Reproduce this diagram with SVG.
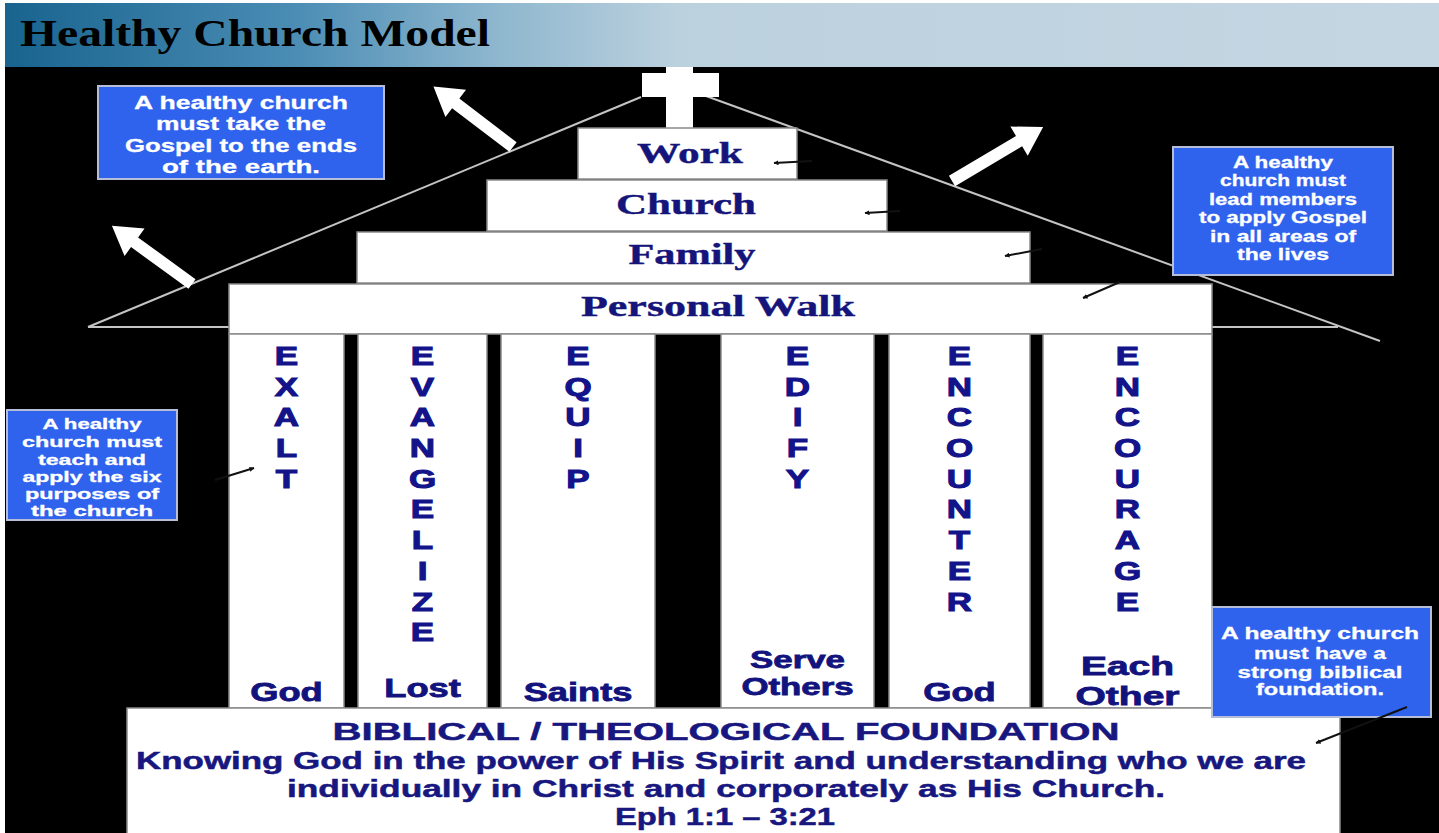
<svg xmlns="http://www.w3.org/2000/svg" width="1439" height="833" viewBox="0 0 1439 833">
<defs>
<linearGradient id="hdr" x1="0" y1="0" x2="1" y2="0">
<stop offset="0" stop-color="#18648f"/>
<stop offset="0.2" stop-color="#4a8cb4"/>
<stop offset="0.34" stop-color="#8db6ce"/>
<stop offset="0.47" stop-color="#bcd1de"/>
<stop offset="1" stop-color="#c4d6e2"/>
</linearGradient>
<marker id="ah" viewBox="0 0 10 10" refX="9" refY="5" markerWidth="5" markerHeight="5" orient="auto" markerUnits="userSpaceOnUse">
<path d="M0,0 L10,5 L0,10 Z" fill="#111"/>
</marker>
<style>
.box{fill:#fff;stroke:#8a8a8a;stroke-width:1.5}
.ser{font-family:"Liberation Serif","Times New Roman",serif;font-weight:bold;fill:#14147a;text-anchor:middle;font-size:30px;stroke:#14147a;stroke-width:0.4}
.pil{font-family:"Liberation Sans",Arial,sans-serif;font-weight:bold;fill:#13138a;text-anchor:middle;font-size:25px;stroke:#13138a;stroke-width:1}
.lab{font-family:"Liberation Sans",Arial,sans-serif;font-weight:bold;fill:#13137e;text-anchor:middle;stroke:#13137e;stroke-width:0.8}
.call rect{fill:#2f63ee;stroke:#b6bdd6;stroke-width:2}
.ct{font-family:"Liberation Sans",Arial,sans-serif;font-weight:bold;fill:#fff;text-anchor:middle;stroke:#fff;stroke-width:0.3}
.fnd{font-family:"Liberation Sans",Arial,sans-serif;font-weight:bold;fill:#17177f;text-anchor:middle;font-size:24px;stroke:#17177f;stroke-width:0.5}
.roof{stroke:#c4c4c4;stroke-width:2;fill:none}
.sa{stroke:#111;stroke-width:2;fill:none;marker-end:url(#ah)}
.wa{fill:#fff}
</style>
</defs>
<rect x="0" y="0" width="1439" height="833" fill="#fff"/>
<rect x="5" y="67" width="1434" height="766" fill="#000"/>
<g id="header">
<rect x="5" y="3" width="1434" height="64" fill="url(#hdr)"/>
<text x="20" y="46" font-family="'Liberation Serif','Times New Roman',serif" font-weight="bold" font-size="38" fill="#000" textLength="470" lengthAdjust="spacingAndGlyphs">Healthy Church Model</text>
</g>
<g id="roof">
<line class="roof" x1="641" y1="97" x2="88" y2="327"/>
<line class="roof" x1="706" y1="96" x2="1380" y2="341"/>
<line class="roof" x1="88" y1="327" x2="1338" y2="327"/>
</g>
<g id="cross">
<rect x="666" y="67" width="27" height="62" fill="#fff"/>
<rect x="642" y="73" width="77" height="24" fill="#fff"/>
</g>
<g id="work">
<rect class="box" x="578" y="128" width="219" height="51"/>
<text class="ser" x="690" y="163" textLength="106" lengthAdjust="spacingAndGlyphs">Work</text>
</g>
<g id="church">
<rect class="box" x="487" y="180" width="400" height="51"/>
<text class="ser" x="686" y="214" textLength="140" lengthAdjust="spacingAndGlyphs">Church</text>
</g>
<g id="family">
<rect class="box" x="357" y="232" width="673" height="51"/>
<text class="ser" x="692" y="264" textLength="127" lengthAdjust="spacingAndGlyphs">Family</text>
</g>
<g id="personal-walk">
<rect class="box" x="229" y="284" width="983" height="50"/>
<text class="ser" x="718" y="316" textLength="274" lengthAdjust="spacingAndGlyphs">Personal Walk</text>
</g>
<g id="exalt">
<rect class="box" x="229" y="334" width="115" height="374"/>
<g transform="translate(286.5,0) scale(1.4,1)">
<text class="pil" y="365"><tspan x="0">E</tspan><tspan x="0" dy="30.7">X</tspan><tspan x="0" dy="30.7">A</tspan><tspan x="0" dy="30.7">L</tspan><tspan x="0" dy="30.7">T</tspan></text>
</g>
<g transform="translate(286.5,0) scale(1.45,1)"><text class="lab" x="0" y="701" font-size="25">God</text></g>
</g>
<g id="evangelize">
<rect class="box" x="358" y="334" width="129" height="374"/>
<g transform="translate(422.5,0) scale(1.4,1)">
<text class="pil" y="365"><tspan x="0">E</tspan><tspan x="0" dy="30.7">V</tspan><tspan x="0" dy="30.7">A</tspan><tspan x="0" dy="30.7">N</tspan><tspan x="0" dy="30.7">G</tspan><tspan x="0" dy="30.7">E</tspan><tspan x="0" dy="30.7">L</tspan><tspan x="0" dy="30.7">I</tspan><tspan x="0" dy="30.7">Z</tspan><tspan x="0" dy="30.7">E</tspan></text>
</g>
<g transform="translate(422.5,0) scale(1.45,1)"><text class="lab" x="0" y="697" font-size="25">Lost</text></g>
</g>
<g id="equip">
<rect class="box" x="501" y="334" width="154" height="374"/>
<g transform="translate(578,0) scale(1.4,1)">
<text class="pil" y="365"><tspan x="0">E</tspan><tspan x="0" dy="30.7">Q</tspan><tspan x="0" dy="30.7">U</tspan><tspan x="0" dy="30.7">I</tspan><tspan x="0" dy="30.7">P</tspan></text>
</g>
<g transform="translate(578,0) scale(1.45,1)"><text class="lab" x="0" y="701" font-size="25">Saints</text></g>
</g>
<g id="edify">
<rect class="box" x="721" y="334" width="153" height="374"/>
<g transform="translate(797.5,0) scale(1.4,1)">
<text class="pil" y="365"><tspan x="0">E</tspan><tspan x="0" dy="30.7">D</tspan><tspan x="0" dy="30.7">I</tspan><tspan x="0" dy="30.7">F</tspan><tspan x="0" dy="30.7">Y</tspan></text>
</g>
<g transform="translate(797.5,0) scale(1.45,1)"><text class="lab" x="0" y="668" font-size="24">Serve</text><text class="lab" x="0" y="695" font-size="24">Others</text></g>
</g>
<g id="encounter">
<rect class="box" x="889" y="334" width="141" height="374"/>
<g transform="translate(959.5,0) scale(1.4,1)">
<text class="pil" y="365"><tspan x="0">E</tspan><tspan x="0" dy="30.7">N</tspan><tspan x="0" dy="30.7">C</tspan><tspan x="0" dy="30.7">O</tspan><tspan x="0" dy="30.7">U</tspan><tspan x="0" dy="30.7">N</tspan><tspan x="0" dy="30.7">T</tspan><tspan x="0" dy="30.7">E</tspan><tspan x="0" dy="30.7">R</tspan></text>
</g>
<g transform="translate(959.5,0) scale(1.45,1)"><text class="lab" x="0" y="701" font-size="25">God</text></g>
</g>
<g id="encourage">
<rect class="box" x="1043" y="334" width="169" height="374"/>
<g transform="translate(1127.5,0) scale(1.4,1)">
<text class="pil" y="365"><tspan x="0">E</tspan><tspan x="0" dy="30.7">N</tspan><tspan x="0" dy="30.7">C</tspan><tspan x="0" dy="30.7">O</tspan><tspan x="0" dy="30.7">U</tspan><tspan x="0" dy="30.7">R</tspan><tspan x="0" dy="30.7">A</tspan><tspan x="0" dy="30.7">G</tspan><tspan x="0" dy="30.7">E</tspan></text>
</g>
<g transform="translate(1127.5,0) scale(1.5,1)"><text class="lab" x="0" y="675" font-size="26">Each</text><text class="lab" x="0" y="705" font-size="26">Other</text></g>
</g>
<g id="foundation">
<rect class="box" x="127" y="708" width="1213" height="130"/>
<text class="fnd" x="726" y="740" textLength="787" lengthAdjust="spacingAndGlyphs">BIBLICAL / THEOLOGICAL FOUNDATION</text>
<text class="fnd" x="721" y="769" textLength="1170" lengthAdjust="spacingAndGlyphs">Knowing God in the power of His Spirit and understanding who we are</text>
<text class="fnd" x="726" y="797" textLength="878" lengthAdjust="spacingAndGlyphs">individually in Christ and corporately as His Church.</text>
<text class="fnd" x="725" y="825" textLength="220" lengthAdjust="spacingAndGlyphs">Eph 1:1 – 3:21</text>
</g>
<g id="callout-gospel" class="call">
<rect x="98" y="86" width="286" height="93"/>
<text class="ct" x="241" y="109" font-size="18" textLength="214" lengthAdjust="spacingAndGlyphs">A healthy church</text>
<text class="ct" x="241" y="130" font-size="18" textLength="170" lengthAdjust="spacingAndGlyphs">must take the</text>
<text class="ct" x="241" y="152" font-size="18" textLength="232" lengthAdjust="spacingAndGlyphs">Gospel to the ends</text>
<text class="ct" x="241" y="173" font-size="18" textLength="158" lengthAdjust="spacingAndGlyphs">of the earth.</text>
</g>
<g id="callout-apply" class="call">
<rect x="1173" y="147" width="220" height="128"/>
<text class="ct" x="1283" y="168" font-size="16" textLength="100" lengthAdjust="spacingAndGlyphs">A healthy</text>
<text class="ct" x="1283" y="186" font-size="16" textLength="126" lengthAdjust="spacingAndGlyphs">church must</text>
<text class="ct" x="1283" y="205" font-size="16" textLength="148" lengthAdjust="spacingAndGlyphs">lead members</text>
<text class="ct" x="1283" y="223" font-size="16" textLength="168" lengthAdjust="spacingAndGlyphs">to apply Gospel</text>
<text class="ct" x="1283" y="242" font-size="16" textLength="146" lengthAdjust="spacingAndGlyphs">in all areas of</text>
<text class="ct" x="1283" y="260" font-size="16" textLength="92" lengthAdjust="spacingAndGlyphs">the lives</text>
</g>
<g id="callout-purposes" class="call">
<rect x="7" y="410" width="170" height="110"/>
<text class="ct" x="92" y="429" font-size="14" textLength="99" lengthAdjust="spacingAndGlyphs">A healthy</text>
<text class="ct" x="92" y="447" font-size="14" textLength="140" lengthAdjust="spacingAndGlyphs">church must</text>
<text class="ct" x="92" y="465" font-size="14" textLength="108" lengthAdjust="spacingAndGlyphs">teach and</text>
<text class="ct" x="92" y="482" font-size="14" textLength="139" lengthAdjust="spacingAndGlyphs">apply the six</text>
<text class="ct" x="92" y="499" font-size="14" textLength="134" lengthAdjust="spacingAndGlyphs">purposes of</text>
<text class="ct" x="92" y="516" font-size="14" textLength="122" lengthAdjust="spacingAndGlyphs">the church</text>
</g>
<g id="callout-foundation" class="call">
<rect x="1212" y="607" width="219" height="110"/>
<text class="ct" x="1320" y="639" font-size="16" textLength="198" lengthAdjust="spacingAndGlyphs">A healthy church</text>
<text class="ct" x="1320" y="659" font-size="16" textLength="132" lengthAdjust="spacingAndGlyphs">must have a</text>
<text class="ct" x="1320" y="678" font-size="16" textLength="165" lengthAdjust="spacingAndGlyphs">strong biblical</text>
<text class="ct" x="1320" y="695" font-size="16" textLength="128" lengthAdjust="spacingAndGlyphs">foundation.</text>
</g>
<g id="connectors">
<line class="sa" x1="812" y1="161" x2="774" y2="163"/>
<line class="sa" x1="900" y1="211" x2="865" y2="213"/>
<line class="sa" x1="1042" y1="249" x2="1005" y2="256"/>
<line class="sa" x1="1120" y1="282" x2="1083" y2="298"/>
<line class="sa" x1="215" y1="480" x2="254" y2="468"/>
<line class="sa" x1="1407" y1="707" x2="1316" y2="743"/>
<path class="wa" transform="translate(513,147) rotate(217.3)" d="M0,-6 L72,-6 L72,-17 L100,0 L72,17 L72,6 L0,6 Z"/>
<path class="wa" transform="translate(192,284) rotate(216)" d="M0,-6 L71,-6 L71,-17 L99,0 L71,17 L71,6 L0,6 Z"/>
<path class="wa" transform="translate(952,181) rotate(-30.7)" d="M0,-6 L78,-6 L78,-17 L106,0 L78,17 L78,6 L0,6 Z"/>
</g>
</svg>
